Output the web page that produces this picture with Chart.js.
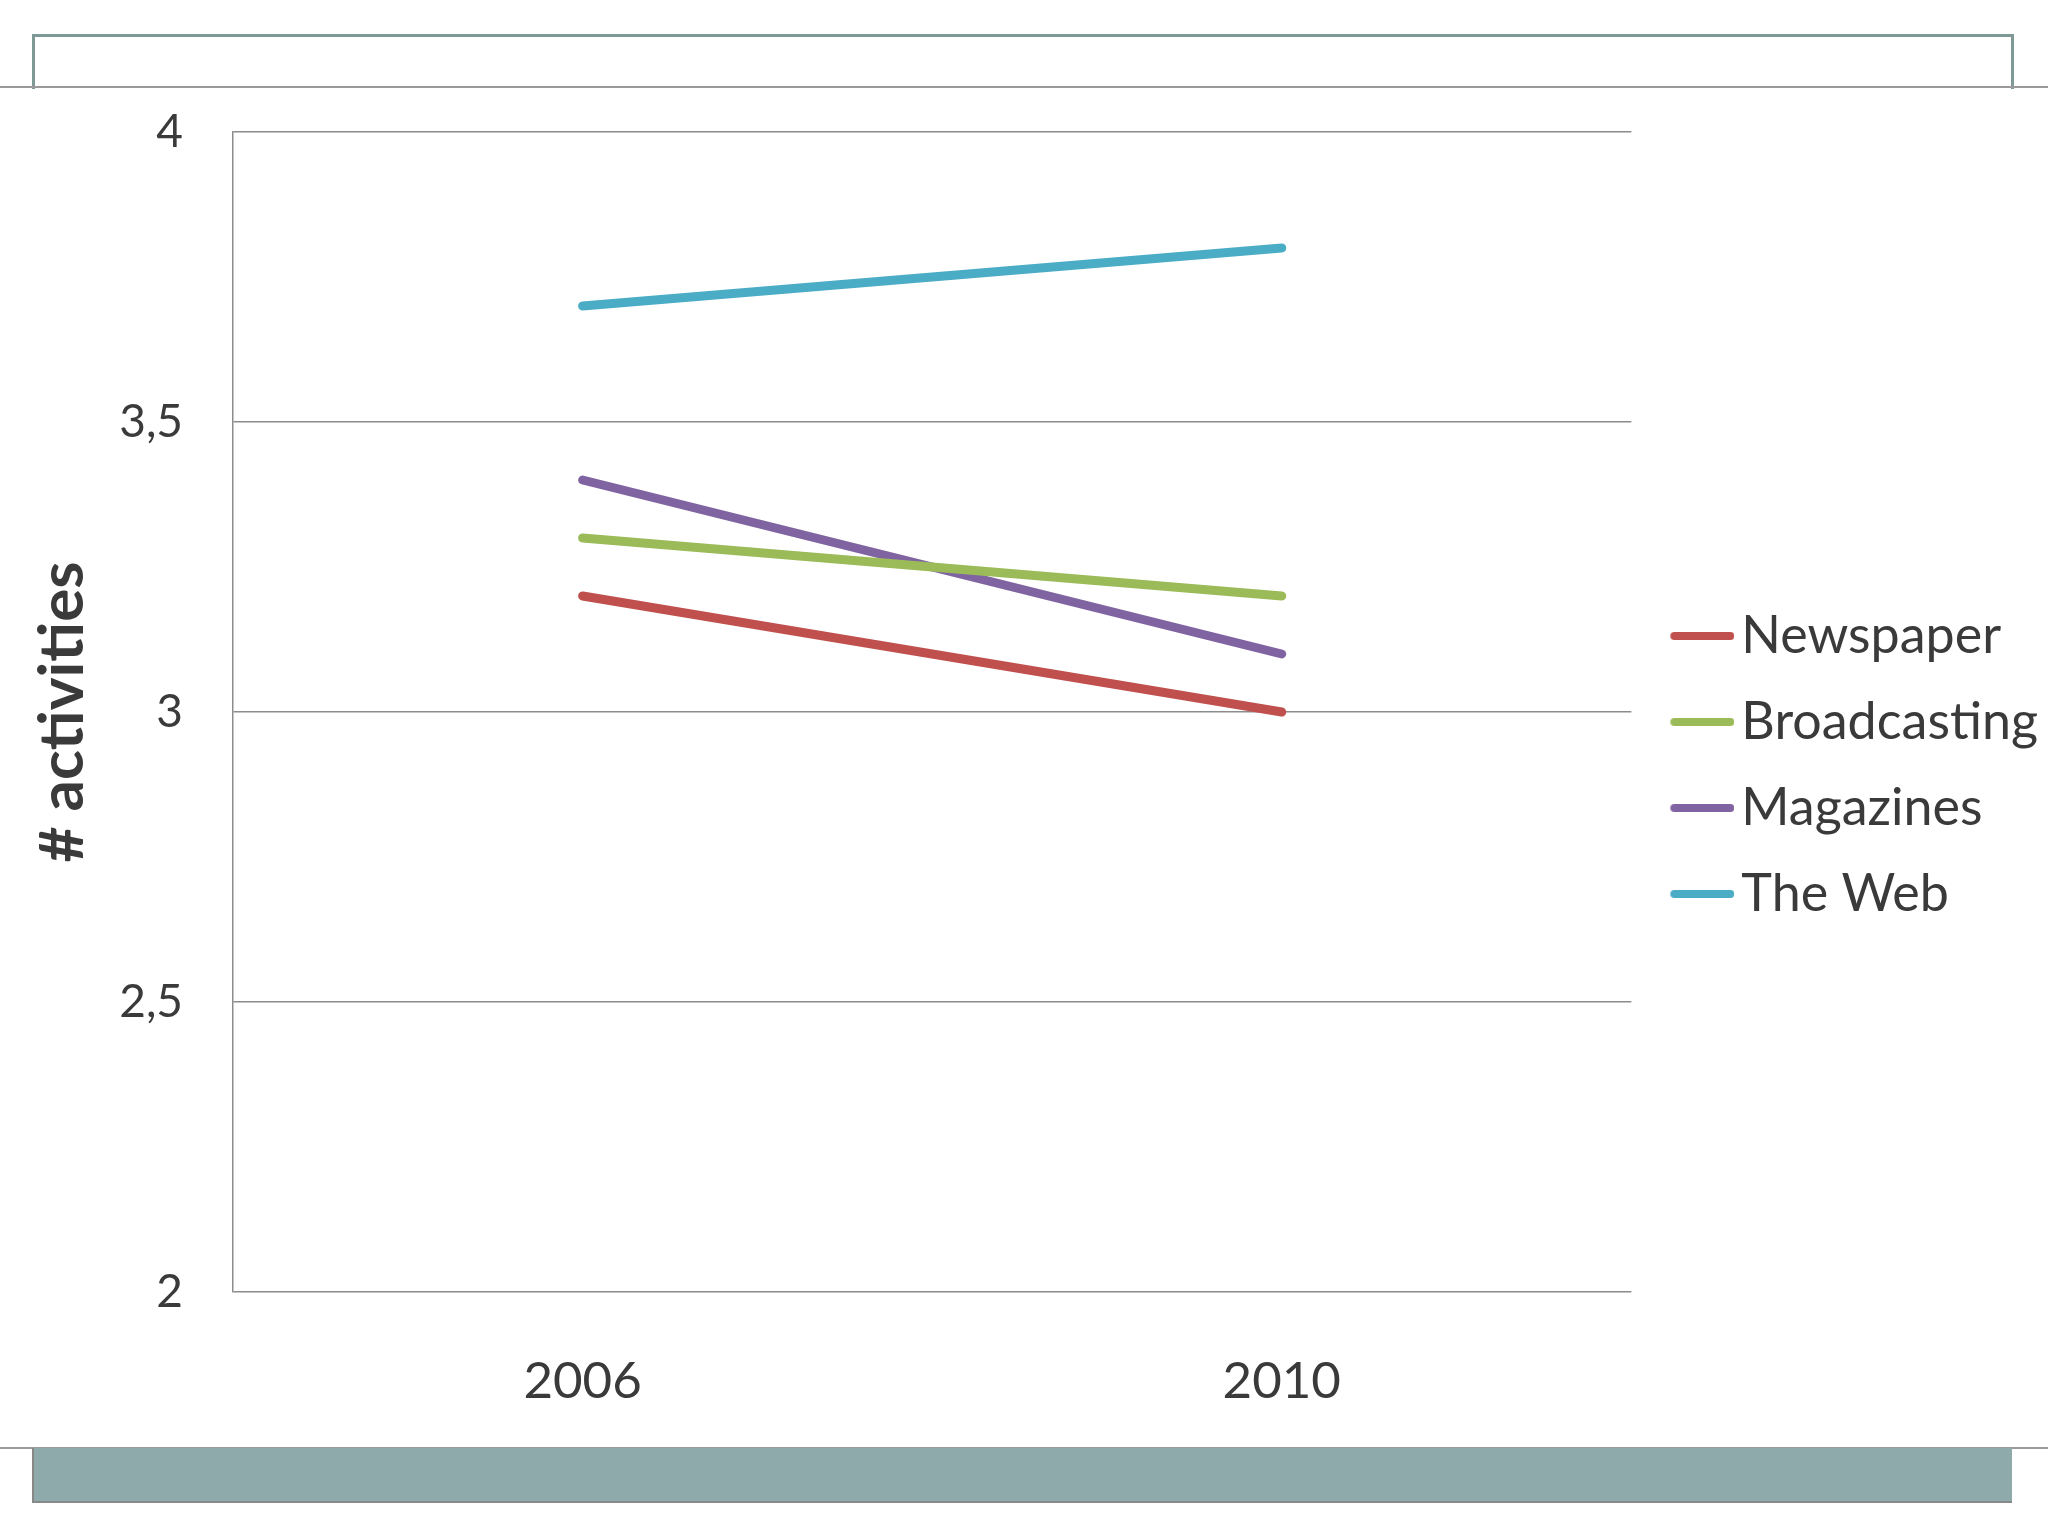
<!DOCTYPE html>
<html>
<head>
<meta charset="utf-8">
<script src="https://cdn.jsdelivr.net/npm/chart.js@4.4.1/dist/chart.umd.min.js"></script>
<style>
  html, body { margin: 0; padding: 0; background: #fff; }
  #wrap { position: relative; width: 2048px; height: 1536px; overflow: hidden; }
  #chart { position: absolute; left: 0; top: 0; }
  .hline { position: absolute; left: 0; width: 2048px; height: 2px; background: #9a9a9a; }
  #topbox { position: absolute; left: 32px; top: 34px; width: 1976px; height: 52px;
            border: 3px solid #7f9a96; border-bottom: none; }
  #bottombar { position: absolute; left: 32px; top: 1448px; width: 1978px; height: 53px;
               background: #8eaaab; border-left: 2px solid #888; border-bottom: 2px solid #888; }
</style>
</head>
<body>
<div id="wrap">
  <div id="topbox"></div>
  <div class="hline" style="top:86px"></div>
  <div class="hline" style="top:1447px"></div>
  <div id="bottombar"></div>
  <canvas id="chart" width="2048" height="1536"></canvas>
</div>
<script>
    let years = ["2006", "2010"];
    let seriesNames = ["Newspaper", "Broadcasting", "Magazines", "The Web"];
    let newspaper = [3.2, 3.0];
    let broadcasting = [3.3, 3.2];
    let magazines = [3.4, 3.1];
    let theWeb = [3.7, 3.8];
    let yTicks = [2, 2.5, 3, 3.5, 4];

    let colorPallete = ["#c0504d", "#9bbb59", "#8064a2", "#4bacc6"];
    let textColor = "#3a3a3a";
    let fontFamily = "Lato, 'Open Sans', sans-serif";

    // legend swatch: a short line sitting close to the label text
    function makeSwatch(color) {
        const c = document.createElement("canvas");
        c.width = 88;
        c.height = 12;
        const g = c.getContext("2d");
        g.strokeStyle = color;
        g.lineWidth = 8;
        g.lineCap = "round";
        g.beginPath();
        g.moveTo(c.width - 60, 6);
        g.lineTo(c.width - 4, 6);
        g.stroke();
        return c;
    }

    let allValues = [newspaper, broadcasting, magazines, theWeb];
    let datasets = seriesNames.map(function(name, i) {
        return {
            label: name,
            data: allValues[i],
            borderColor: colorPallete[i],
            backgroundColor: colorPallete[i],
            borderWidth: 9,
            borderCapStyle: "round",
            pointRadius: 0,
            pointHoverRadius: 0,
            tension: 0,
            pointStyle: makeSwatch(colorPallete[i])
        };
    });

    Chart.defaults.font.family = fontFamily;
    Chart.defaults.color = textColor;

    const chart = new Chart(document.getElementById("chart"), {
        type: "line",
        data: { labels: years, datasets: datasets },
        options: {
            responsive: false,
            animation: false,
            events: [],
            layout: { padding: { top: 132, bottom: 138, left: 0, right: 0 } },
            plugins: {
                tooltip: { enabled: false },
                legend: {
                    position: "right",
                    align: "center",
                    labels: {
                        usePointStyle: true,
                        pointStyleWidth: 50,
                        boxHeight: 12,
                        padding: 34,
                        color: textColor,
                        font: { size: 52 }
                    }
                }
            },
            scales: {
                x: {
                    offset: true,
                    afterFit: function(scale) { scale.height = 106; },
                    grid: { display: false, drawTicks: false },
                    border: { display: false },
                    ticks: { padding: 59, font: { size: 51 }, color: textColor }
                },
                y: {
                    min: 2,
                    max: 4,
                    afterBuildTicks: function(scale) {
                        scale.ticks = yTicks.map(function(v) { return { value: v }; });
                    },
                    afterFit: function(scale) { scale.width = 233; },
                    grid: { color: "#8c8c8c", lineWidth: 1.5, drawTicks: false },
                    border: { display: true, color: "#8c8c8c", width: 1.5 },
                    ticks: {
                        padding: 50,
                        font: { size: 46 },
                        color: textColor,
                        callback: function(v) { return String(v).replace(".", ","); }
                    },
                    title: {
                        display: true,
                        text: "# activities",
                        color: textColor,
                        font: { size: 62, weight: "bold" },
                        padding: { top: 26, bottom: 0 }
                    }
                }
            }
        }
    });
</script>
</body>
</html>
